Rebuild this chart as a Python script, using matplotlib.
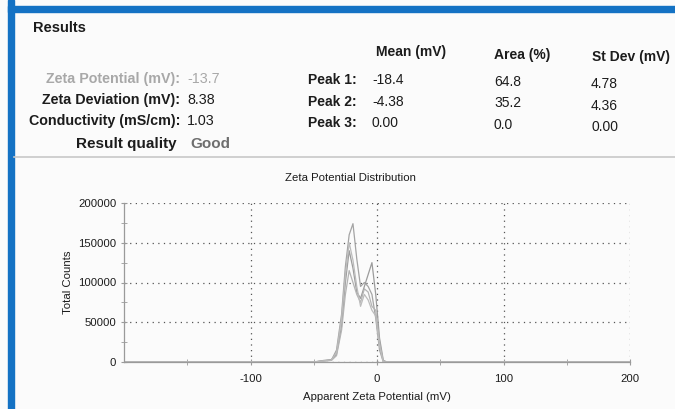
import matplotlib.pyplot as plt
import numpy as np

plt.rcParams['font.family'] = ['Liberation Sans', 'DejaVu Sans']
plt.rcParams['axes.unicode_minus'] = False

W, H = 675, 409

# summary block
summary_labels = ['Zeta Potential (mV):', 'Zeta Deviation (mV):', 'Conductivity (mS/cm):', 'Result quality']
summary_values = ['-13.7', '8.38', '1.03', 'Good']

peak_labels = ['Peak 1:', 'Peak 2:', 'Peak 3:']
peak_columns = ['Mean (mV)', 'Area (%)', 'St Dev (mV)']
peak_mean = ['-18.4', '-4.38', '0.00']
peak_area = ['64.8', '35.2', '0.0']
peak_stdev = ['4.78', '4.36', '0.00']

# distribution runs (apparent zeta potential in mV vs total counts)
zeta_mv = [-200, -50, -42, -36, -32, -28, -25, -22, -19, -16, -13, -10, -7, -4, -1, 2, 5, 8, 200]
counts_run1 = [0, 0, 1500, 2500, 15000, 60000, 120000, 160000, 174000, 130000, 95000, 100000, 95000, 85000, 55000, 15000, 0, 0, 0]
counts_run2 = [0, 0, 2000, 3000, 10000, 45000, 100000, 140000, 118000, 88000, 80000, 95000, 110000, 125000, 85000, 30000, 2000, 0, 0]
counts_run3 = [0, 0, 1000, 2000, 8000, 40000, 85000, 115000, 100000, 85000, 75000, 92000, 88000, 70000, 65000, 25000, 0, 0, 0]
counts_run4 = [0, 0, 1500, 2500, 12000, 55000, 110000, 150000, 128000, 95000, 70000, 85000, 78000, 65000, 58000, 20000, 0, 0, 0]
runs = [counts_run1, counts_run2, counts_run3, counts_run4]
run_colors = ['#a4a4a4', '#9c9c9c', '#b4b4b4', '#bcbcbc']

x_major = [-100, 0, 100, 200]
y_major = [0, 50000, 100000, 150000, 200000]


def px(x, y):
    return x / W, 1 - y / H


fig = plt.figure(figsize=(W / 100, H / 100), dpi=100, facecolor='#fbfbfb')

# blue report frame and separator
fig.add_artist(plt.Rectangle(px(8, H), 6 / W, 1, color='#1472c4', transform=fig.transFigure))
fig.add_artist(plt.Rectangle(px(8, 12), 1, 6 / H, color='#1472c4', transform=fig.transFigure))
fig.add_artist(plt.Line2D([14 / W, 1], [1 - 157 / H, 1 - 157 / H], color='#c8c8c8', lw=1.2,
                          transform=fig.transFigure))

ink = '#1c1c1c'
fig.text(*px(33, 28), 'Results', fontsize=10.5, fontweight='bold', color=ink, va='center')

for label, x, y in zip(peak_columns, [376, 494, 592], [52, 55, 57]):
    fig.text(*px(x, y), label, fontsize=10, fontweight='bold', color=ink, va='center')

row_y = [79, 100, 121, 144]
label_colors = ['#a8a8a8', ink, ink, ink]
value_colors = ['#a8a8a8', ink, ink, '#6e6e6e']
label_right = [180, 180, 180, 177]
label_sizes = [10.3, 10.3, 10.3, 11]
for i, (label, value) in enumerate(zip(summary_labels, summary_values)):
    fig.text(*px(label_right[i], row_y[i]), label, fontsize=label_sizes[i], fontweight='bold',
             color=label_colors[i], ha='right', va='center')
    fig.text(*px(187 if i < 3 else 190, row_y[i]), value, fontsize=10.3 if i < 3 else 11,
             fontweight='bold' if i == 3 else 'normal', color=value_colors[i], va='center')

for i, label in enumerate(peak_labels):
    y = 80 + i * 21.5
    fig.text(*px(357, y), label, fontsize=10, fontweight='bold', color=ink, ha='right', va='center')
    fig.text(*px(372, y), peak_mean[i], fontsize=10, color=ink, va='center')
    fig.text(*px(494, y + 2), peak_area[i], fontsize=10, color=ink, va='center')
    fig.text(*px(591, y + 4), peak_stdev[i], fontsize=10, color=ink, va='center')

# distribution plot
ax = fig.add_axes([124 / W, 47 / H, 506 / W, 159 / H])
ax.set_facecolor('none')
for counts, c in zip(runs, run_colors):
    ax.plot(zeta_mv, counts, color=c, lw=0.9)

ax.set_xlim(-200, 200)
ax.set_ylim(0, 200000)
ax.set_xticks(x_major)
ax.set_xticks([-150, -50, 50, 150], minor=True)
ax.set_yticks(y_major)
ax.set_yticks([25000, 75000, 125000, 175000], minor=True)
ax.grid(True, which='major', color='#555555', linestyle=(0, (1, 3.5)), lw=0.9)

for side in ['top', 'right']:
    ax.spines[side].set_visible(False)
for side in ['left', 'bottom']:
    ax.spines[side].set_color('#9a9a9a')
    ax.spines[side].set_linewidth(0.9)

ax.tick_params(which='both', direction='inout', colors='#9a9a9a', labelcolor=ink, labelsize=8.2)
ax.tick_params(which='major', length=5)
ax.tick_params(which='minor', length=4)
ax.tick_params(axis='x', pad=6)
ax.tick_params(axis='y', pad=3)

ax.set_xlabel('Apparent Zeta Potential (mV)', fontsize=8.2, color=ink, labelpad=6)
ax.set_ylabel('Total Counts', fontsize=8.2, color=ink, labelpad=4)
fig.text(*px(350, 178), 'Zeta Potential Distribution', fontsize=8.2, color=ink, ha='center', va='center')

fig.savefig('out.png', dpi=100, facecolor=fig.get_facecolor())
